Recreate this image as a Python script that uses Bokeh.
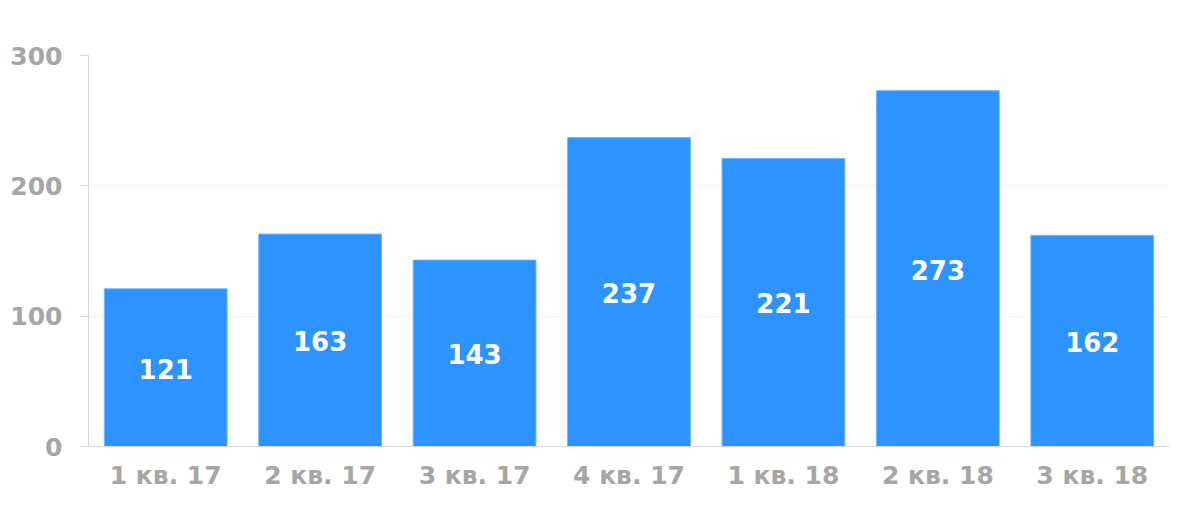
from bokeh.plotting import figure
from bokeh.models import ColumnDataSource, FixedTicker
from bokeh.core.properties import value
from bokeh.embed import file_html
from bokeh.resources import INLINE

categories = ["1 кв. 17", "2 кв. 17", "3 кв. 17", "4 кв. 17", "1 кв. 18", "2 кв. 18", "3 кв. 18"]
values = [121, 163, 143, 237, 221, 273, 162]
y_ticks = [0, 100, 200, 300]

src = ColumnDataSource(dict(
    cat=categories,
    val=values,
    mid=[v / 2 for v in values],
    lab=[str(v) for v in values],
))

p = figure(x_range=categories, y_range=(0, 300), width=1192, height=508,
           output_backend="svg", toolbar_location=None,
           min_border_left=88, min_border_right=23, min_border_top=55, min_border_bottom=62)
p.frame_width = 1081
p.frame_height = 391

p.vbar(x="cat", top="val", width=0.795, source=src,
       fill_color="#2c93ff", line_color="#6fb5ff", line_width=1)
p.text(x="cat", y="mid", text="lab", source=src, text_align="center", text_baseline="middle",
       text_color="white", text_font=value("DejaVu Sans"), text_font_style="bold",
       text_font_size="26px", y_offset=1)

p.outline_line_color = None
p.background_fill_color = "white"
p.border_fill_color = "white"

p.xgrid.grid_line_color = None
p.ygrid.grid_line_color = "#f3f3f3"
p.ygrid.ticker = FixedTicker(ticks=y_ticks)

p.yaxis.ticker = FixedTicker(ticks=y_ticks)
p.yaxis.axis_line_color = "#d6d6d6"
p.yaxis.major_tick_line_color = "#d6d6d6"
p.yaxis.major_tick_out = 8
p.yaxis.major_tick_in = 0
p.yaxis.minor_tick_line_color = None
p.yaxis.major_label_standoff = 18

p.xaxis.axis_line_color = "#d6d6d6"
p.xaxis.major_tick_line_color = None
p.xaxis.minor_tick_line_color = None
p.xaxis.major_label_standoff = 8

for ax in (p.xaxis, p.yaxis):
    ax.major_label_text_font = "DejaVu Sans"
    ax.major_label_text_font_style = "bold"
    ax.major_label_text_font_size = "25px"
    ax.major_label_text_color = "#a6a6a6"

open("out.html", "w").write(file_html(p, INLINE))
